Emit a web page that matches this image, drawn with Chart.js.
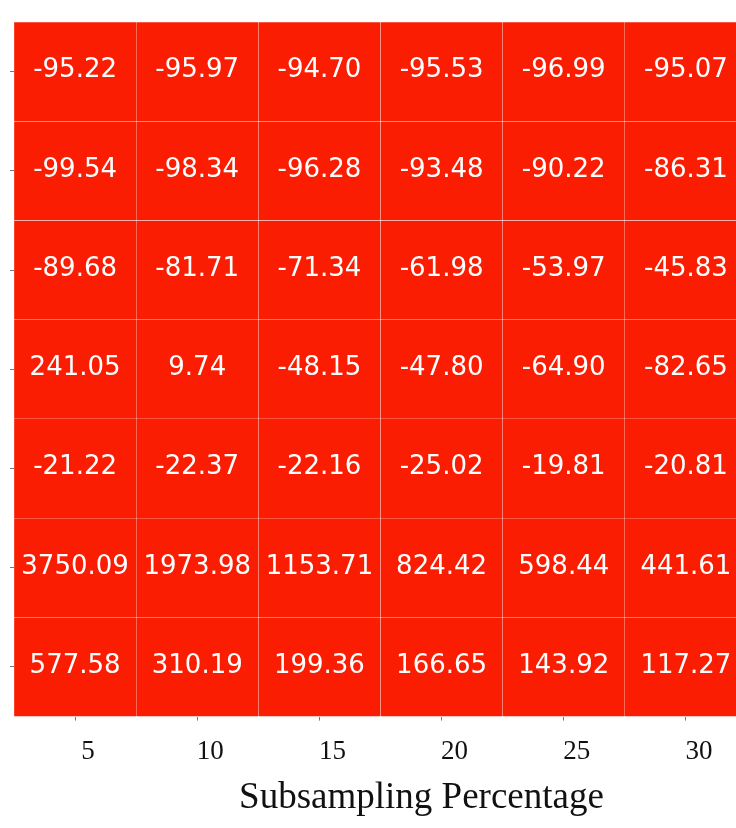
<!DOCTYPE html>
<html lang="en">
<head>
    <meta charset="UTF-8">
    <title>Subsampling heatmap</title>
    <style>
        body {
            margin: 0;
            background: #ffffff;
            overflow: hidden;
        }
        .wrap {
            width: 760px;
            height: 828px;
        }
    </style>
</head>
<body>
    <div class="wrap">
        <canvas id="heatmap" width="760" height="828"></canvas>
    </div>

    <script src="https://cdn.jsdelivr.net/npm/chart.js"></script>
    <script>
        // columns: subsampling percentage
        const percentages = ['5', '10', '15', '20', '25', '30'];

        // rows, top to bottom
        const row1 = [-95.22, -95.97, -94.70, -95.53, -96.99, -95.07];
        const row2 = [-99.54, -98.34, -96.28, -93.48, -90.22, -86.31];
        const row3 = [-89.68, -81.71, -71.34, -61.98, -53.97, -45.83];
        const row4 = [241.05, 9.74, -48.15, -47.80, -64.90, -82.65];
        const row5 = [-21.22, -22.37, -22.16, -25.02, -19.81, -20.81];
        const row6 = [3750.09, 1973.98, 1153.71, 824.42, 598.44, 441.61];
        const row7 = [577.58, 310.19, 199.36, 166.65, 143.92, 117.27];

        const rows = [row1, row2, row3, row4, row5, row6, row7];
        const xTitle = 'Subsampling Percentage';

        const cellColor = 'rgb(250, 29, 2)';

        // each row is a dataset of floating bars spanning [r, r + 1]
        const datasets = rows.map((vals, r) => ({
            label: 'row ' + (r + 1),
            data: vals.map(() => [r, r + 1]),
            backgroundColor: cellColor,
            borderColor: 'rgba(255, 255, 255, 0.035)',
            borderWidth: 0.5,
            borderSkipped: false,
            barPercentage: 1,
            categoryPercentage: 1,
            grouped: false
        }));

        const cellLabels = {
            id: 'cellLabels',
            afterDatasetsDraw(chart) {
                const ctx = chart.ctx;
                const xs = chart.scales.x;
                const ys = chart.scales.y;
                ctx.save();
                ctx.fillStyle = '#ffffff';
                ctx.font = '26px "DejaVu Sans"';
                ctx.textAlign = 'center';
                ctx.textBaseline = 'middle';
                rows.forEach((vals, r) => {
                    vals.forEach((v, c) => {
                        ctx.fillText(v.toFixed(2), xs.getPixelForValue(c), ys.getPixelForValue(r + 0.5) - 1);
                    });
                });
                ctx.restore();
            }
        };

        const axisTitle = {
            id: 'axisTitle',
            afterDraw(chart) {
                const ctx = chart.ctx;
                const a = chart.chartArea;
                ctx.save();
                ctx.fillStyle = '#111111';
                ctx.font = '37px "Liberation Serif"';
                ctx.textAlign = 'center';
                ctx.textBaseline = 'alphabetic';
                ctx.fillText(xTitle, (a.left + a.right) / 2 + 41, a.bottom + 91);
                ctx.restore();
            }
        };

        const chart = new Chart(document.getElementById('heatmap'), {
            type: 'bar',
            data: {
                labels: percentages,
                datasets: datasets
            },
            options: {
                responsive: false,
                animation: false,
                layout: {
                    padding: { left: 10, right: 13, top: 22, bottom: 45 }
                },
                plugins: {
                    legend: { display: false },
                    tooltip: { enabled: false }
                },
                scales: {
                    x: {
                        type: 'category',
                        offset: true,
                        border: { display: false },
                        grid: {
                            offset: false,
                            drawOnChartArea: false,
                            drawTicks: true,
                            tickLength: 4,
                            color: '#777777'
                        },
                        ticks: {
                            color: '#111111',
                            padding: 15,
                            labelOffset: 13,
                            maxRotation: 0,
                            font: { family: 'Liberation Serif', size: 27 }
                        }
                    },
                    y: {
                        type: 'linear',
                        min: 0,
                        max: rows.length,
                        reverse: true,
                        border: { display: false },
                        afterBuildTicks(scale) {
                            scale.ticks = rows.map((_, i) => ({ value: i + 0.5 }));
                        },
                        grid: {
                            drawOnChartArea: false,
                            drawTicks: true,
                            tickLength: 4,
                            color: '#777777'
                        },
                        ticks: { display: false }
                    }
                }
            },
            plugins: [cellLabels, axisTitle]
        });
    </script>
</body>
</html>
